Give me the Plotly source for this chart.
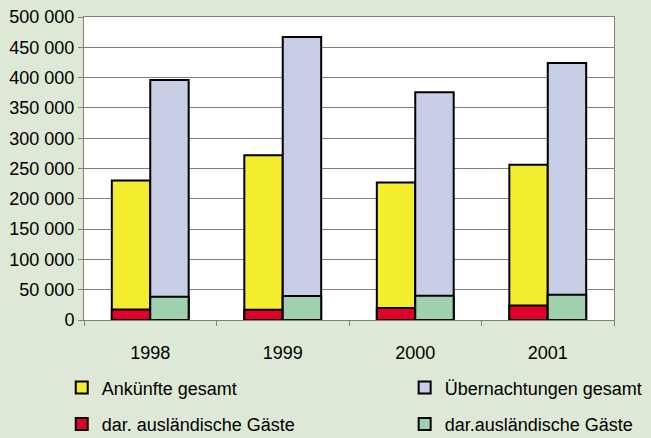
import plotly.graph_objects as go

years = ["1998", "1999", "2000", "2001"]
ankuenfte_gesamt = [230000, 272000, 227000, 256000]
ankuenfte_ausland = [17500, 17000, 19800, 24000]
uebernachtungen_gesamt = [396000, 467000, 376000, 424000]
uebernachtungen_ausland = [38500, 39500, 40000, 41800]

names = ["Ankünfte gesamt", "dar. ausländische Gäste",
         "Übernachtungen gesamt", "dar.ausländische Gäste"]
colors = ["#f4ec2e", "#e0002a", "#c8cde6", "#9fd1ae"]

font = "Liberation Sans, Arial, sans-serif"
fig = go.Figure()
series = [ankuenfte_gesamt, ankuenfte_ausland, uebernachtungen_gesamt, uebernachtungen_ausland]
groups = ["a", "a", "b", "b"]
legends = ["legend", "legend", "legend2", "legend2"]
for i, (vals, nm, col, g, lg) in enumerate(zip(series, names, colors, groups, legends)):
    fig.add_trace(go.Bar(
        x=years, y=vals, name=nm, offsetgroup=g, legend=lg, legendgroup=nm,
        marker=dict(color=col, line=dict(color="#000000", width=2)),
        hoverinfo="y",
    ))

fig.update_layout(
    width=651, height=438,
    margin=dict(l=84, r=37, t=17, b=118, autoexpand=False),
    paper_bgcolor="#dde8d6",
    plot_bgcolor="#ffffff",
    barmode="group",
    bargap=0.42,
    bargroupgap=0,
    separators=". ",
    font=dict(family=font, size=18, color="#000000"),
    legend=dict(x=-0.042, y=-0.163, xanchor="left", yanchor="top",
                orientation="v", tracegroupgap=10, bgcolor="rgba(0,0,0,0)",
                font=dict(size=18), traceorder="grouped"),
    legend2=dict(x=0.605, y=-0.163, xanchor="left", yanchor="top",
                 orientation="v", tracegroupgap=10, bgcolor="rgba(0,0,0,0)",
                 font=dict(size=18), traceorder="grouped"),
)
fig.update_yaxes(range=[0, 500000], dtick=50000, tickformat=",d",
                 showgrid=True, gridcolor="#808080", gridwidth=1,
                 showline=True, linecolor="#808080", linewidth=1, mirror=True,
                 ticks="outside", ticklen=5, tickcolor="#808080",
                 zeroline=False, tickfont=dict(size=18), automargin=False)
fig.update_xaxes(type="category", showline=True, linecolor="#808080", linewidth=1,
                 mirror=True, ticks="outside", ticklen=5, tickcolor="#808080",
                 tickson="boundaries", ticklabelstandoff=16, showgrid=False,
                 tickfont=dict(size=18), automargin=False)

fig.write_html("out.html", config={"displayModeBar": False},
               post_script="document.body.style.margin='0';")
